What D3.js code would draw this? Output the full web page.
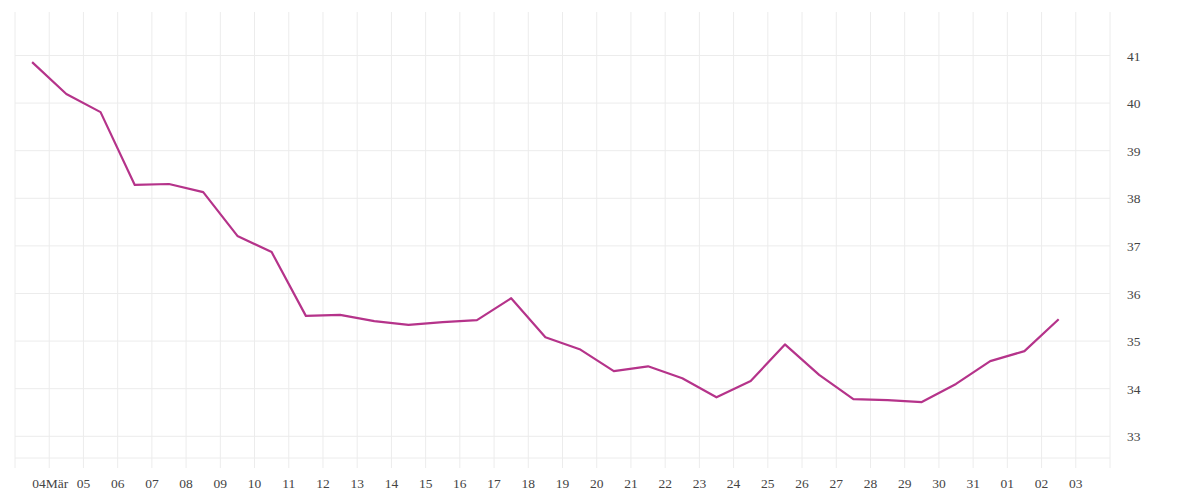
<!DOCTYPE html>
<html><head><meta charset="utf-8">
<script src="https://cdn.jsdelivr.net/npm/d3@7"></script>
<style>body{margin:0;background:#fff}text{font-family:"Liberation Serif",serif;font-size:13.5px;fill:#444}</style>
</head><body><svg id="c" width="1200" height="500"></svg>
<script>
const startDate = "2020-03-03T12:00";
const values = [40.86,40.19,39.81,38.28,38.30,38.13,37.21,36.87,35.53,35.55,35.42,35.34,35.40,35.44,35.90,35.08,34.83,34.37,34.47,34.22,33.82,34.16,34.93,34.29,33.78,33.76,33.72,34.10,34.58,34.79,35.46];
const yTicks = [33,34,35,36,37,38,39,40,41];
const de = d3.timeFormatLocale({dateTime:"%A, %e. %B %Y, %X",date:"%d.%m.%Y",time:"%H:%M:%S",periods:["AM","PM"],days:["Sonntag","Montag","Dienstag","Mittwoch","Donnerstag","Freitag","Samstag"],shortDays:["So","Mo","Di","Mi","Do","Fr","Sa"],months:["Januar","Februar","März","April","Mai","Juni","Juli","August","September","Oktober","November","Dezember"],shortMonths:["Jan","Feb","Mär","Apr","Mai","Jun","Jul","Aug","Sep","Okt","Nov","Dez"]});
const t0 = new Date(startDate);
const data = values.map((v,i)=>({d:d3.timeHour.offset(t0,24*i),v}));
const svg = d3.select("#c");
const L=15,R=1110,T=12,B=458;
const x = d3.scaleTime().domain([new Date("2020-03-03T00:00"),new Date("2020-04-04T00:00")]).range([L,R]);
const y = d3.scaleLinear().domain([41 - (B-55.5)/47.6, 41 + (55.5-T)/47.6]).range([B,T]);
const days = d3.timeDay.range(new Date("2020-03-03T00:00"),new Date("2020-04-04T01:00"));
const g = svg.append("g");
g.selectAll("line.v").data(days).join("line").attr("x1",d=>x(d)).attr("x2",d=>x(d)).attr("y1",T).attr("y2",468).attr("stroke","#ececec");
g.selectAll("line.h").data(yTicks).join("line").attr("x1",L).attr("x2",R).attr("y1",d=>y(d)).attr("y2",d=>y(d)).attr("stroke","#ececec");
g.append("line").attr("x1",L).attr("x2",R).attr("y1",B).attr("y2",B).attr("stroke","#ececec");
const lbl = days.filter(d=>d>=new Date("2020-03-04T00:00")&&d<=new Date("2020-04-03T00:00"));
const fd = de.format("%d"), fm = de.format("%d%b");
svg.selectAll("text.x").data(lbl).join("text").attr("x",d=>x(d)).attr("y",488).attr("text-anchor","middle")
 .attr("dx",d=>d.getDate()===4&&d.getMonth()===2?1:0).text(d=>(d.getDate()===4&&d.getMonth()===2)?fm(d):fd(d));
svg.selectAll("text.y").data(yTicks).join("text").attr("x",1127).attr("y",d=>y(d)+5).text(d=>d);
svg.append("path").datum(data).attr("fill","none").attr("stroke","#b5338a").attr("stroke-width",2.2).attr("stroke-linejoin","round")
 .attr("d",d3.line().x(d=>x(d.d)).y(d=>y(d.v)));
</script></body></html>
